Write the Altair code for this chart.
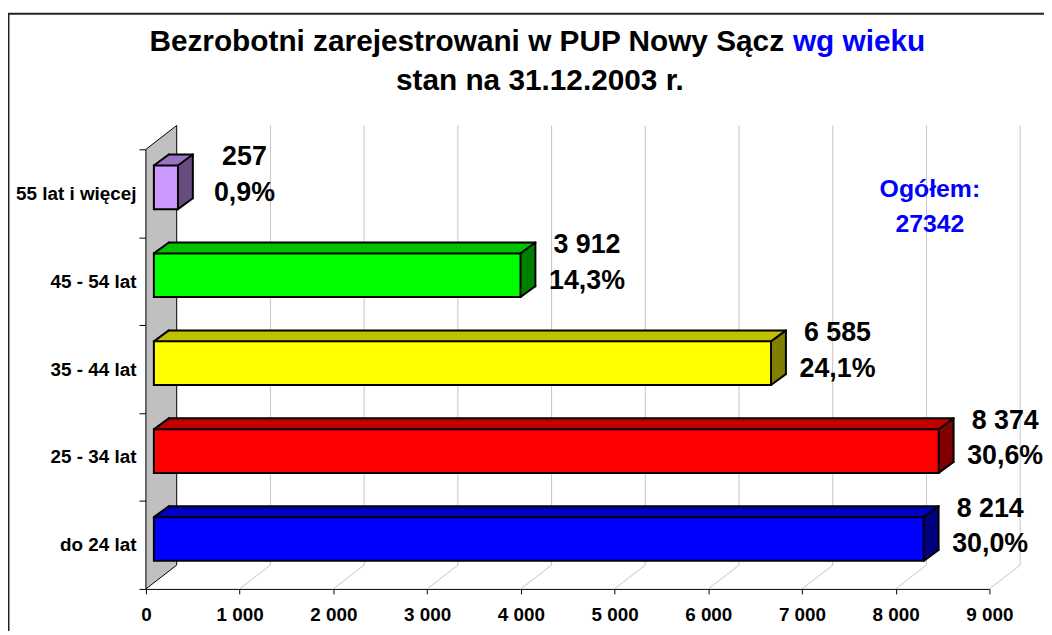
import json
import altair as alt
import pandas as pd

# ---------------- data ----------------
categories = ['do 24 lat', '25 - 34 lat', '35 - 44 lat', '45 - 54 lat', '55 lat i więcej']
values = [8214, 8374, 6585, 3912, 257]
percent_labels = ['30,0%', '30,6%', '24,1%', '14,3%', '0,9%']
front_colors = ['#0000FF', '#FF0000', '#FFFF00', '#00FF00', '#CC99FF']
top_colors = ['#0000C0', '#C00000', '#C0C000', '#00C000', '#9974C0']
side_colors = ['#000080', '#800000', '#808000', '#008000', '#664D80']
x_ticks = [0, 1000, 2000, 3000, 4000, 5000, 6000, 7000, 8000, 9000]
title_black = 'Bezrobotni zarejestrowani w PUP Nowy Sącz'
title_blue = 'wg wieku'
subtitle = 'stan na 31.12.2003 r.'
total_label = 'Ogółem:'
total_value = '27342'

# ---------------- layout constants ----------------
FONT = 'Liberation Sans'
W, H = 850, 443
XMAX = 9000
NCAT = len(categories)
BAND = H / NCAT
FLOOR_DX, FLOOR_DY = 31, 24       # depth of the 3D floor in px
BAR_X0 = 8                        # bar front face offset from front plane
BAR_H = 44
BAR_DX, BAR_DY = 15, 11           # bar depth
Y_BOT = BAR_H / 2 - 6             # front face bottom offset from band centre
Y_TOP = -BAR_H / 2 - 6            # front face top offset from band centre
NSTEP = 11

xs = alt.Scale(domain=[0, XMAX], nice=False, zero=False)
ys = alt.Scale(domain=[0, NCAT], nice=False, zero=False)

df = pd.DataFrame({
    'cat': categories,
    'value': values,
    'pct': percent_labels,
    'front': front_colors,
    'top': top_colors,
    'side': side_colors,
})
df['c'] = [i + 0.5 for i in range(NCAT)]
df['zero'] = 0

base = alt.Chart(df)

# ---------------- axes (same definition in every layer) ----------------
cat_js = json.dumps(categories, ensure_ascii=False)
y_axis = alt.Axis(
    values=list(range(NCAT + 1)),
    labelExpr=f"datum.value < {NCAT} ? {cat_js}[datum.value] : ''",
    labelOffset=-BAND / 2, tickSize=7, labelPadding=3,
    domainColor='black', tickColor='black', domainWidth=1, tickWidth=1,
    labelFontSize=19, labelFontWeight='bold', labelFont=FONT, labelColor='black',
    grid=False, title=None, labelOverlap=False,
)
x_axis = alt.Axis(
    values=x_ticks,
    labelExpr="replace(format(datum.value, ','), ',', ' ')",
    tickSize=5, labelPadding=12, labelFlush=False,
    domainColor='black', tickColor='black', domainWidth=1, tickWidth=1,
    labelFontSize=19, labelFontWeight='bold', labelFont=FONT, labelColor='black',
    grid=False, title=None, labelOverlap=False,
)


def X(field):
    return alt.X(field, scale=xs, axis=x_axis)


def Y(field):
    return alt.Y(field, scale=ys, axis=y_axis)


wall_x = FLOOR_DX * XMAX / W
wall_dy = FLOOR_DY / BAND
wall_df = pd.DataFrame({'wx': [0, wall_x], 'wy': [0, wall_dy], 'wy2': [NCAT, NCAT + wall_dy]})
wall = alt.Chart(wall_df).mark_area(
    orient='vertical', color='#C0C0C0', stroke='black', strokeWidth=1
).encode(
    x=X('wx:Q'),
    y=Y('wy:Q'),
    y2='wy2:Q',
)

grid_df = pd.DataFrame({'t': x_ticks[1:]})
back_grid = alt.Chart(grid_df).mark_rule(
    xOffset=FLOOR_DX, color='#C4C4C4', strokeWidth=1
).encode(
    x=X('t:Q'),
    y=alt.value(-FLOOR_DY), y2=alt.value(H - FLOOR_DY),
)
floor_grid = alt.Chart(grid_df).mark_rule(
    x2Offset=FLOOR_DX, color='#C4C4C4', strokeWidth=1
).encode(
    x=X('t:Q'), x2='t:Q',
    y=alt.value(H), y2=alt.value(H - FLOOR_DY),
)


def rect_layer(shift_x, y_bottom, y_top, color_field, **kw):
    return base.mark_rect(
        xOffset=BAR_X0 + shift_x, x2Offset=BAR_X0 + shift_x,
        yOffset=y_bottom, y2Offset=y_top, **kw
    ).encode(
        x=X('zero:Q'), x2='value:Q',
        y=Y('c:Q'), y2='c:Q',
        color=alt.Color(f'{color_field}:N', scale=None),
    )


layers = [wall, back_grid, floor_grid]

# hull (side colour)
for k in range(1, NSTEP + 1):
    t = k / NSTEP
    layers.append(rect_layer(t * BAR_DX, Y_BOT - t * BAR_DY, Y_TOP - t * BAR_DY, 'side'))

# top face strips
for k in range(NSTEP):
    sx = (k + 0.5) * BAR_DX / NSTEP
    yb = Y_TOP - k * BAR_DY / NSTEP + 0.6
    yt = Y_TOP - (k + 1) * BAR_DY / NSTEP - 0.3
    layers.append(rect_layer(sx, yb, yt, 'top'))

# front face
layers.append(rect_layer(0, Y_BOT, Y_TOP, 'front', stroke='black', strokeWidth=2))


def edge(xf, x2f, xo, x2o, yo, y2o):
    return base.mark_rule(
        color='black', strokeWidth=2, strokeCap='round',
        xOffset=xo, x2Offset=x2o, yOffset=yo, y2Offset=y2o
    ).encode(
        x=X(f'{xf}:Q'), x2=f'{x2f}:Q',
        y=Y('c:Q'), y2='c:Q',
    )


bx0, bx1 = BAR_X0, BAR_X0 + BAR_DX
layers += [
    edge('zero', 'zero', bx0, bx1, Y_TOP, Y_TOP - BAR_DY),
    edge('value', 'value', bx0, bx1, Y_TOP, Y_TOP - BAR_DY),
    edge('value', 'value', bx0, bx1, Y_BOT, Y_BOT - BAR_DY),
    edge('zero', 'value', bx1, bx1, Y_TOP - BAR_DY, Y_TOP - BAR_DY),
    edge('value', 'value', bx1, bx1, Y_TOP - BAR_DY, Y_BOT - BAR_DY),
]

# value labels
lab_dx = 75
val_text = base.transform_calculate(
    vlabel="replace(format(datum.value, ','), ',', ' ')"
).mark_text(
    font=FONT, fontWeight='bold', fontSize=27, align='center', baseline='alphabetic',
    dx=lab_dx, dy=-28, color='black'
).encode(
    x=X('value:Q'),
    y=Y('c:Q'),
    text='vlabel:N',
)
pct_text = base.mark_text(
    font=FONT, fontWeight='bold', fontSize=27, align='center', baseline='alphabetic',
    dx=lab_dx, dy=7.5, color='black'
).encode(
    x=X('value:Q'),
    y=Y('c:Q'),
    text='pct:N',
)
layers += [val_text, pct_text]


def free_text(txt, x, y, size, color='black', align='center'):
    return alt.Chart(pd.DataFrame({'t': [txt]})).mark_text(
        font=FONT, fontWeight='bold', fontSize=size, align=align,
        baseline='alphabetic', color=color
    ).encode(text='t:N', x=alt.value(x), y=alt.value(y))


TITLE_SIZE = 30
layers += [
    free_text(title_black, 3.5, -99, TITLE_SIZE, align='left'),
    free_text(title_blue, 652, -99, TITLE_SIZE, color='#0000FF', align='left'),
    free_text(subtitle, 397, -60, TITLE_SIZE),
    free_text(total_label, 790, 48.5, 25, color='#0000FF'),
    free_text(total_value, 790, 83.5, 25, color='#0000FF'),
]

border = alt.Chart(pd.DataFrame({'b': [1]})).mark_rect(
    fillOpacity=0, stroke='#222222', strokeWidth=2
).encode(
    x=alt.value(-138.5), x2=alt.value(W + 80),
    y=alt.value(-136.5), y2=alt.value(H + 80),
)
layers.append(border)

chart = alt.layer(*layers).properties(
    width=W, height=H,
    padding={'left': 139, 'top': 140, 'right': 55, 'bottom': 40},
    autosize=alt.AutoSizeParams(type='none'),
    background='white',
).configure_view(strokeWidth=0)

chart.save('out.html', embed_options={'renderer': 'svg', 'actions': False})
